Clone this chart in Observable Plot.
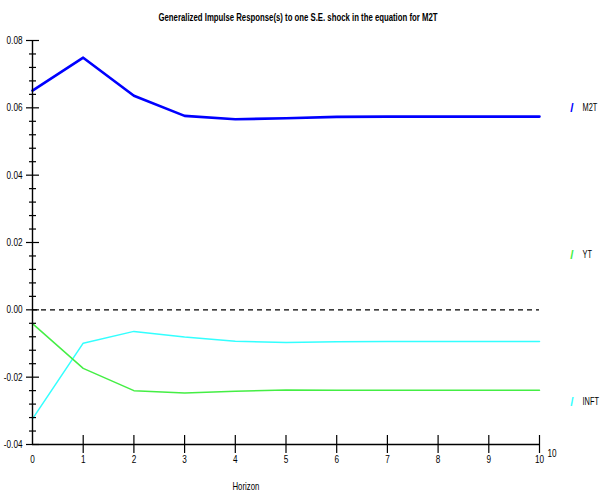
<!DOCTYPE html>
<html><head><meta charset="utf-8">
<script src="https://cdn.jsdelivr.net/npm/d3@7"></script>
<script src="https://cdn.jsdelivr.net/npm/@observablehq/plot@0.6"></script>
<style>
body{margin:0;background:#fff;}
#chart svg{display:block;}
</style></head><body><div id="chart"></div>
<script>
// ---- data ----
const title = "Generalized Impulse Response(s) to one S.E. shock in the equation for M2T";
const xAxisTitle = "Horizon";
const xAxisEndLabel = "10";
const horizon = [0, 1, 2, 3, 4, 5, 6, 7, 8, 9, 10];
const m2t  = [0.0651, 0.0749, 0.0636, 0.0576, 0.0566, 0.0569, 0.0573, 0.0574, 0.0574, 0.0574, 0.0574];
const yt   = [-0.0041, -0.0174, -0.0240, -0.0247, -0.0242, -0.0238, -0.0239, -0.0239, -0.0239, -0.0239, -0.0239];
const inft = [-0.0324, -0.0099, -0.0064, -0.0081, -0.0093, -0.0097, -0.0095, -0.0094, -0.0094, -0.0094, -0.0094];
const seriesNames = ["M2T", "YT", "INFT"];
const seriesColors = ["#0000ff", "#44ee44", "#33ffff"];
const seriesValues = [m2t, yt, inft];
const yMajorTicks = [-0.04, -0.02, 0.00, 0.02, 0.04, 0.06, 0.08];
const xTicks = [0, 1, 2, 3, 4, 5, 6, 7, 8, 9, 10];

// ---- derived ----
const yMinorTicks = [];
for (let k = 0; k < yMajorTicks.length - 1; k++) {
  const a = yMajorTicks[k], b = yMajorTicks[k + 1];
  for (let j = 1; j < 5; j++) yMinorTicks.push(a + (b - a) * j / 5);
}
const series = seriesNames.map((name, i) => ({
  name, color: seriesColors[i],
  rows: horizon.map((h, k) => ({h, v: seriesValues[i][k]}))
}));

const W = 600, H = 495, mL = 32, mR = 61, mT = 40, mB = 51;
const frameW = W - mL - mR, frameH = H - mT - mB;
const FONT = '"Liberation Sans Narrow","Arial Narrow","Liberation Sans",Arial,sans-serif';

const marks = [
  Plot.ruleY([0], {x1: 0, x2: 10, stroke: "#000", strokeWidth: 1.2, strokeDasharray: "5,4"}),
  ...series.slice().reverse().map(s =>
    Plot.line(s.rows, {x: "h", y: "v", stroke: s.color, strokeWidth: s.name === "M2T" ? 2.6 : 1.5, strokeLinejoin: "round"})),
  // axis lines
  Plot.ruleX([0], {y1: yMajorTicks[0], y2: yMajorTicks[yMajorTicks.length - 1], stroke: "#000", strokeWidth: 1.4}),
  Plot.ruleY([yMajorTicks[0]], {x1: 0, x2: 10, stroke: "#000", strokeWidth: 1.4}),
  // y ticks (crossing the axis)
  Plot.tickY(yMajorTicks, {y: d => d, insetLeft: -6, insetRight: frameW - 7, stroke: "#000", strokeWidth: 1.2}),
  Plot.tickY(yMinorTicks, {y: d => d, insetLeft: -3, insetRight: frameW - 4, stroke: "#000", strokeWidth: 1.2}),
  // x ticks
  Plot.tickX(xTicks.filter(d => d > 0), {x: d => d, insetTop: frameH - 9, insetBottom: -9, stroke: "#000", strokeWidth: 1.2}),
  // tick labels
  Plot.text(yMajorTicks, {y: d => d, frameAnchor: "left", dx: -10, textAnchor: "end", text: d => d.toFixed(2), fontSize: 10.5, fill: "#000", className: "narrow"}),
  Plot.text(xTicks, {x: d => d, frameAnchor: "bottom", dy: 18, text: d => String(d), fontSize: 10.5, fill: "#000", className: "narrow"}),
  Plot.text([xAxisEndLabel], {frameAnchor: "bottom-right", dx: 8, dy: 12, text: d => d, textAnchor: "start", fontSize: 10.5, fill: "#000", className: "narrow"}),
  Plot.text([xAxisTitle], {frameAnchor: "bottom-left", dx: 200, dy: 45, text: d => d, fontSize: 10, fill: "#000", className: "narrow"}),
  Plot.text([title], {frameAnchor: "top", dx: 12, dy: -27, text: d => d, fontSize: 11, fontWeight: "bold", fill: "#000", className: "ctitle"}),
  // legend
  ...series.map((s, i) => Plot.text([s.name], {frameAnchor: "top-right", dx: 34, dy: 63 + i * 147, text: () => "/", fill: s.color, fontSize: 12, fontWeight: "bold"})),
  ...series.map((s, i) => Plot.text([s.name], {frameAnchor: "top-right", dx: 43, dy: 63 + i * 147, text: d => d, textAnchor: "start", fill: "#000", fontSize: 10, className: "narrowlegend"}))
];

const plot = Plot.plot({
  width: W, height: H,
  marginLeft: mL, marginRight: mR, marginTop: mT, marginBottom: mB,
  style: {fontFamily: FONT, fontSize: "10px", background: "#fff", color: "#000", overflow: "visible"},
  x: {domain: [0, 10], axis: null},
  y: {domain: [yMajorTicks[0], yMajorTicks[yMajorTicks.length - 1]], axis: null},
  marks
});
document.getElementById("chart").appendChild(plot);
d3.select(plot).selectAll("g.ctitle text").attr("textLength", 279).attr("lengthAdjust", "spacingAndGlyphs");
d3.select(plot).selectAll("g.narrow text").each(function () {
  const t = this.getAttribute("transform") || "";
  this.setAttribute("transform", (t + " scale(0.78,1)").trim());
});
d3.select(plot).selectAll("g.narrowlegend text").each(function () {
  const t = this.getAttribute("transform") || "";
  this.setAttribute("transform", (t + " scale(0.74,1)").trim());
});
</script>
</body></html>
